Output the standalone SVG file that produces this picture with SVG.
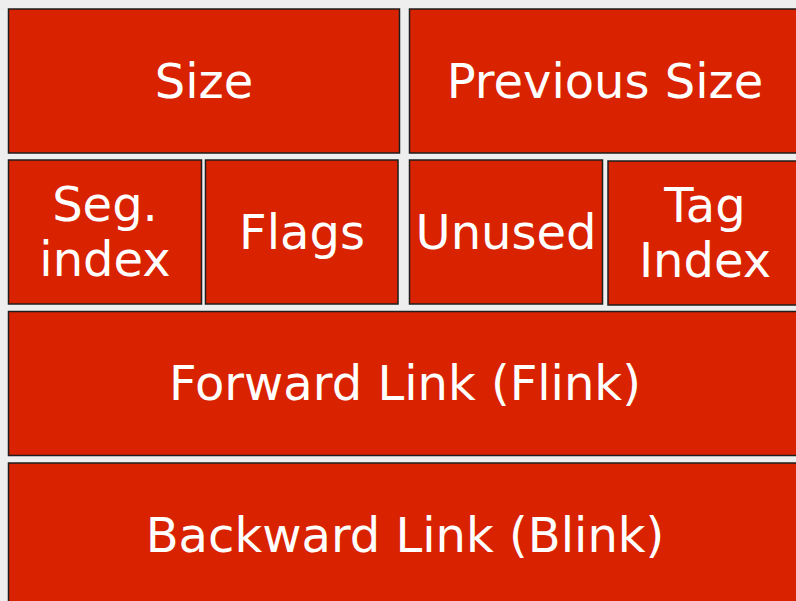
<svg xmlns="http://www.w3.org/2000/svg" width="796" height="601" viewBox="0 0 796 601">
<style>
.box{fill:#d92300;stroke:#1e1e1e;stroke-width:1.5}
.t{fill:#ffffff;font-family:"DejaVu Sans",sans-serif;font-size:48px;text-anchor:middle}
</style>
<rect x="0" y="0" width="796" height="601" fill="#eeeeee"/>
<g id="size"><rect class="box" x="8.5" y="9" width="391" height="144"/><text class="t" x="204" y="98">Size</text></g>
<g id="prevsize"><rect class="box" x="409.5" y="9" width="392" height="144"/><text class="t" x="605" y="98">Previous Size</text></g>
<g id="segindex"><rect class="box" x="8.5" y="160" width="193" height="144"/><text class="t" x="105" y="221">Seg.</text><text class="t" x="105" y="276">index</text></g>
<g id="flags"><rect class="box" x="205.5" y="160" width="192.5" height="144"/><text class="t" x="302" y="249">Flags</text></g>
<g id="unused"><rect class="box" x="409.5" y="160" width="193" height="144"/><text class="t" x="506" y="249">Unused</text></g>
<g id="tagindex"><rect class="box" x="608" y="161" width="194" height="144"/><text class="t" x="705" y="222">Tag</text><text class="t" x="705" y="277">Index</text></g>
<g id="flink"><rect class="box" x="8.5" y="311.5" width="793" height="144"/><text class="t" x="405" y="400">Forward Link (Flink)</text></g>
<g id="blink"><rect class="box" x="8.5" y="463" width="793" height="144"/><text class="t" x="405" y="552">Backward Link (Blink)</text></g>
<g id="connectors"/>
</svg>
